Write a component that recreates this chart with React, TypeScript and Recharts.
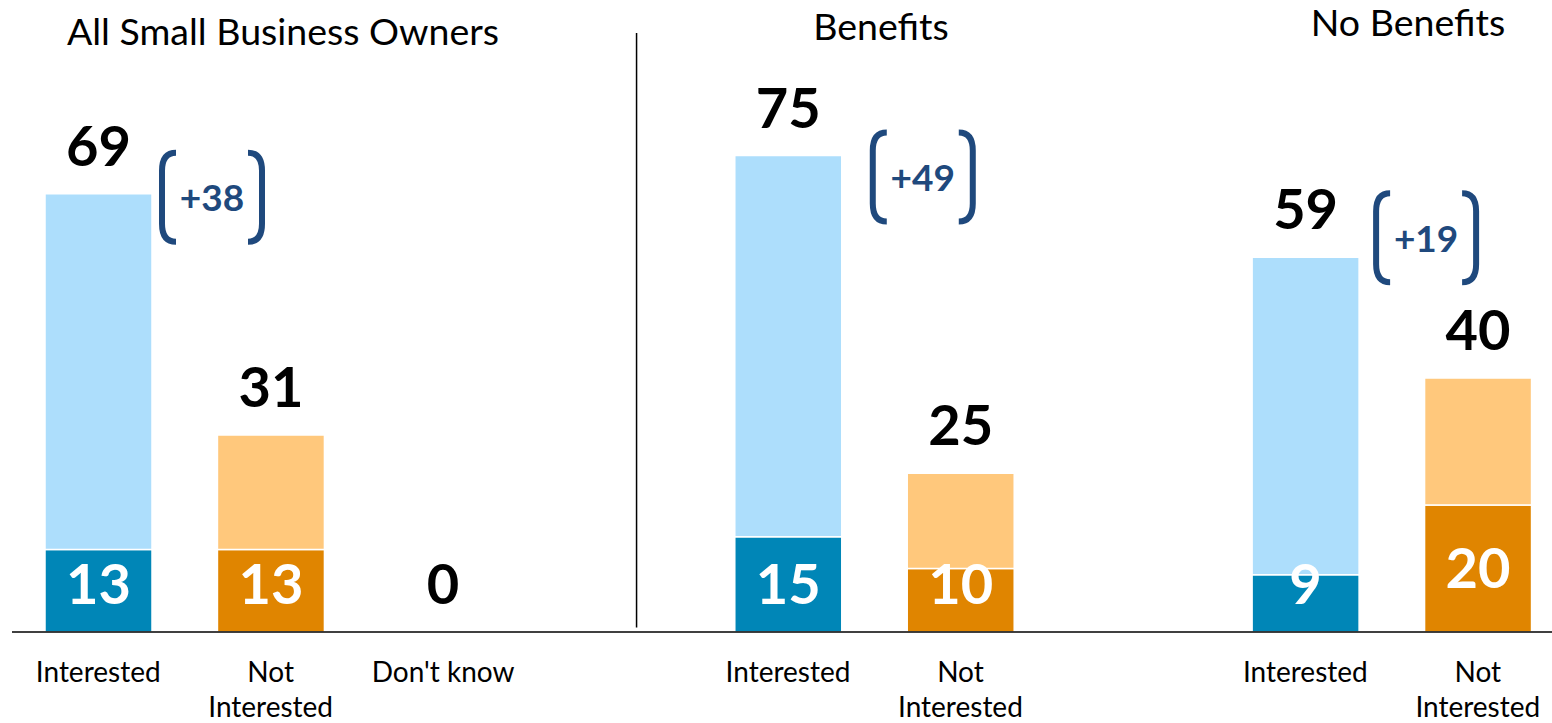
import { BarChart, Bar, XAxis, YAxis, Cell, LabelList, ReferenceLine } from 'recharts';

const GROUP_TITLES = ['All Small Business Owners', 'Benefits', 'No Benefits'];
const GROUP_CATEGORIES = [
  ['Interested', 'Not Interested', "Don't know"],
  ['Interested', 'Not Interested'],
  ['Interested', 'Not Interested'],
];
// total share per answer
const GROUP_TOTALS = [
  [69, 31, 0],
  [75, 25],
  [59, 40],
];
// strongly interested / strongly not interested (dark part of the bar)
const GROUP_STRONG = [
  [13, 13, 0],
  [15, 10],
  [9, 20],
];
// net interest shown in the brackets
const GROUP_GAPS = [38, 49, 19];

const FONT = "Lato, 'Open Sans', sans-serif";
const BRACKET_BLUE = '#1F497D';

const COLORS: Record<string, { strong: string; soft: string }> = {
  Interested: { strong: '#0086B7', soft: '#ADDEFC' },
  'Not Interested': { strong: '#E08500', soft: '#FFC87C' },
};

// bracket placement relative to the top-right corner of each group's first bar
const BRACKET_SHIFT = [
  { dx: 7, dy: -44 },
  { dx: 28, dy: -26 },
  { dx: 14, dy: -67 },
];

interface Row {
  id: string;
  label: string;
  group: number;
  first: boolean;
  total: number;
  strong: number;
  rest: number;
}

const rows: Row[] = [];
GROUP_CATEGORIES.forEach((cats, g) => {
  if (g > 0) {
    rows.push({ id: `gap${g}`, label: '', group: g, first: false, total: 0, strong: 0, rest: 0 });
  }
  cats.forEach((label, i) => {
    const total = GROUP_TOTALS[g][i];
    const strong = GROUP_STRONG[g][i];
    rows.push({ id: `g${g}-${i}`, label, group: g, first: i === 0, total, strong, rest: total - strong });
  });
});

const rowById = (id: string) => rows.find((r) => r.id === id);

function ValueText({ x, y, value, color }: { x: number; y: number; value: number; color: string }) {
  return (
    <text x={x} y={y} textAnchor="middle" fontFamily={FONT} fontWeight={700} fontSize={56} fill={color}>
      {value}
    </text>
  );
}

function CategoryTick({ x, y, payload }: any) {
  const row = rowById(payload.value);
  if (!row || !row.label) return null;
  const lines = row.label === 'Not Interested' ? ['Not', 'Interested'] : [row.label];
  return (
    <g>
      <text x={x} textAnchor="middle" fontFamily={FONT} fontSize={28} fill="#000">
        {lines.map((l, i) => (
          <tspan key={i} x={x} y={y + 50 + i * 35}>
            {l}
          </tspan>
        ))}
      </text>
      {/* an empty bar gets no label from the bar itself */}
      {row.total === 0 && <ValueText x={x} y={y - 28} value={0} color="#000" />}
    </g>
  );
}

function InsideLabel({ x, y, width, height, value }: any) {
  const row = rowById(value);
  if (!row || !row.label || row.total === 0) return null;
  const bottom = y + height;
  const center = Math.min(y + height / 2, bottom - 48);
  return <ValueText x={x + width / 2} y={center + 20} value={row.strong} color="#fff" />;
}

function Bracket({ x, y, w, h, text }: { x: number; y: number; w: number; h: number; text: string }) {
  const t = 3;
  const r = 17;
  const left = `M ${x + r} ${y + t} Q ${x + t} ${y + t} ${x + t} ${y + r + 4} L ${x + t} ${y + h - r - 4} Q ${x + t} ${y + h - t} ${x + r} ${y + h - t}`;
  const xr = x + w;
  const right = `M ${xr - r} ${y + t} Q ${xr - t} ${y + t} ${xr - t} ${y + r + 4} L ${xr - t} ${y + h - r - 4} Q ${xr - t} ${y + h - t} ${xr - r} ${y + h - t}`;
  return (
    <g>
      <path d={left} fill="none" stroke={BRACKET_BLUE} strokeWidth={6} />
      <path d={right} fill="none" stroke={BRACKET_BLUE} strokeWidth={6} />
      <text
        x={x + w / 2}
        y={y + h / 2 + 14}
        textAnchor="middle"
        fontFamily={FONT}
        fontWeight={700}
        fontSize={37}
        fill={BRACKET_BLUE}
      >
        {text}
      </text>
    </g>
  );
}

function TopLabel({ x, y, width, value }: any) {
  const row = rowById(value);
  if (!row || !row.label || row.total === 0) return null;
  const shift = BRACKET_SHIFT[row.group];
  return (
    <g>
      <ValueText x={x + width / 2} y={y - 28} value={row.total} color="#000" />
      {row.first && (
        <Bracket x={x + width + shift.dx} y={y + shift.dy} w={106} h={95} text={`+${GROUP_GAPS[row.group]}`} />
      )}
    </g>
  );
}

const TITLE_POS = [
  { x: 283, y: 45 },
  { x: 881, y: 40 },
  { x: 1408, y: 36 },
];

export default function App() {
  return (
    <div style={{ position: 'absolute', left: 0, top: 0, width: 1552, height: 723, overflow: 'hidden', background: '#fff' }}>
      <BarChart width={1564} height={723} data={rows} margin={{ top: 0, right: 0, left: 12, bottom: 0 }} barSize={107}>
        <XAxis
          dataKey="id"
          type="category"
          interval={0}
          height={91}
          tickLine={false}
          tickSize={0}
          tickMargin={0}
          axisLine={{ stroke: '#000', strokeWidth: 1.5 }}
          tick={<CategoryTick />}
        />
        <YAxis hide domain={[0, 99.5]} />
        <ReferenceLine
          segment={[
            { x: 'gap1', y: 94.3 },
            { x: 'gap1', y: 0.7 },
          ]}
          stroke="#000"
          shape={(p: any) => <line x1={p.x1 + 21} y1={p.y1} x2={p.x2 + 21} y2={p.y2} stroke="#000" strokeWidth={1.5} />}
        />
        <Bar dataKey="strong" stackId="a" stroke="#fff" strokeWidth={1.5} isAnimationActive={false}>
          {rows.map((r) => (
            <Cell key={r.id} fill={COLORS[r.label]?.strong ?? 'transparent'} />
          ))}
          <LabelList dataKey="id" content={<InsideLabel />} />
        </Bar>
        <Bar dataKey="rest" stackId="a" stroke="#fff" strokeWidth={1.5} isAnimationActive={false}>
          {rows.map((r) => (
            <Cell key={r.id} fill={COLORS[r.label]?.soft ?? 'transparent'} />
          ))}
          <LabelList dataKey="id" content={<TopLabel />} />
        </Bar>
      </BarChart>
      <svg width={1552} height={60} style={{ position: 'absolute', left: 0, top: 0 }}>
        {GROUP_TITLES.map((t, i) => (
          <text key={t} x={TITLE_POS[i].x} y={TITLE_POS[i].y} textAnchor="middle" fontFamily={FONT} fontSize={37.5} fill="#000">
            {t}
          </text>
        ))}
      </svg>
    </div>
  );
}
